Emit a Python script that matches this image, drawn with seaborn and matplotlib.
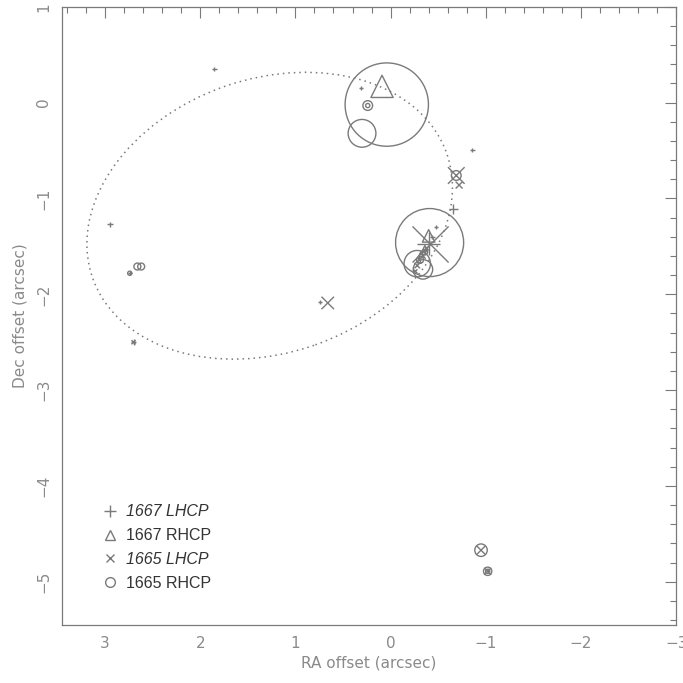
import matplotlib
matplotlib.use("Agg")
import matplotlib.pyplot as plt
from matplotlib.patches import Ellipse
from matplotlib.lines import Line2D
from matplotlib.ticker import MultipleLocator
import seaborn as sns
import pandas as pd

# --- maser spot data: RA / Dec offsets (arcsec) and marker size (pt) ---
lhcp67_ra = [-0.40, -0.66, 2.95, 2.70, -0.48, -0.44, -0.36, -0.30, 0.31, 1.85, -0.86, 0.74, 2.74]
lhcp67_dec = [-1.47, -1.11, -1.27, -2.50, -1.30, -1.40, -1.55, -1.62, 0.15, 0.35, -0.49, -2.08, -1.78]
lhcp67_size = [17, 7, 4, 4, 3, 3, 3, 3, 3, 3, 3, 3, 3]

rhcp67_ra = [0.09, -0.40, -0.36, -0.32, -0.30]
rhcp67_dec = [0.17, -1.39, -1.52, -1.58, -1.65]
rhcp67_size = [16, 9, 4, 4, 3]

lhcp65_ra = [-0.42, -0.69, -0.72, 0.66, -0.95, -0.34, -0.28, -0.38, -0.26, 2.70, -1.02]
lhcp65_dec = [-1.48, -0.76, -0.86, -2.09, -4.67, -1.60, -1.70, -1.52, -1.76, -2.50, -4.89]
lhcp65_size = [26, 12, 5, 9, 6, 4, 4, 3, 3, 3, 5]

rhcp65_ra = [0.04, 0.30, 0.24, 0.24, -0.41, -0.28, -0.34, -0.69, -0.95, -1.02, -1.02, 2.66, 2.62, 2.74, -0.31, -0.36]
rhcp65_dec = [-0.02, -0.32, -0.03, -0.03, -1.46, -1.68, -1.74, -0.76, -4.67, -4.89, -4.89, -1.71, -1.71, -1.78, -1.64, -1.56]
rhcp65_size = [60, 20, 7, 3, 49, 19, 14, 7, 9, 6, 3, 5, 5, 3, 5, 4]

# ring model (centre RA, centre Dec, major, minor, position angle)
ring_ra, ring_dec = 1.27, -1.18
ring_major, ring_minor, ring_angle = 3.94, 2.86, -19.0

GREY = "#7a7a7a"
TXT = "#8a8a8a"

sns.set_style("white")
plt.rcParams["font.family"] = ["DejaVu Sans"]

fig = plt.figure(figsize=(6.83, 6.83), dpi=100)
ax = fig.add_axes([0.091, 0.085, 0.899, 0.905])

groups = [
    (lhcp67_ra, lhcp67_dec, lhcp67_size, "+"),
    (rhcp67_ra, rhcp67_dec, rhcp67_size, "^"),
    (lhcp65_ra, lhcp65_dec, lhcp65_size, "x"),
    (rhcp65_ra, rhcp65_dec, rhcp65_size, "o"),
]
for ra, dec, size, mk in groups:
    df = pd.DataFrame({"ra": ra, "dec": dec, "s": size})
    s = (df["s"] ** 2).values
    if mk in ("+", "x"):
        sns.scatterplot(data=df, x="ra", y="dec", marker=mk, s=s, color=GREY,
                        linewidth=1.0, ax=ax, legend=False)
    else:
        sns.scatterplot(data=df, x="ra", y="dec", marker=mk, s=s, facecolors="none",
                        edgecolor=GREY, linewidth=1.0, ax=ax, legend=False)

ax.add_patch(Ellipse((ring_ra, ring_dec), ring_major, ring_minor, angle=ring_angle,
                     fill=False, edgecolor=GREY, linestyle=(0, (1, 2.6)), linewidth=1.1))

ax.set_xlim(3.45, -3.0)
ax.set_ylim(-5.45, 1.0)
ax.xaxis.set_major_locator(MultipleLocator(1))
ax.xaxis.set_minor_locator(MultipleLocator(0.2))
ax.yaxis.set_major_locator(MultipleLocator(1))
ax.yaxis.set_minor_locator(MultipleLocator(0.2))
ax.tick_params(which="both", direction="in", top=True, right=True, color=GREY,
               labelcolor=TXT, labelsize=11, width=0.8)
ax.tick_params(which="major", length=8, pad=8)
ax.tick_params(which="minor", length=4)
ax.tick_params(axis="y", labelrotation=90)
for lab in ax.get_yticklabels():
    lab.set_va("center")
for sp in ax.spines.values():
    sp.set_color(GREY)
    sp.set_linewidth(0.9)

ax.set_xlabel("RA offset (arcsec)", color=TXT, fontsize=11, labelpad=3)
ax.set_ylabel("Dec offset (arcsec)", color=TXT, fontsize=11, labelpad=6)

handles = [
    Line2D([], [], marker="+", ls="", color=GREY, markersize=8, mew=1),
    Line2D([], [], marker="^", ls="", color=GREY, mfc="none", markersize=7, mew=1),
    Line2D([], [], marker="x", ls="", color=GREY, markersize=6, mew=1),
    Line2D([], [], marker="o", ls="", color=GREY, mfc="none", markersize=7, mew=1),
]
labels = ["1667 LHCP", "1667 RHCP", "1665 LHCP", "1665 RHCP"]
leg = ax.legend(handles, labels, loc="upper left", bbox_to_anchor=(0.052, 0.208),
                frameon=False, handlelength=1.0, handletextpad=0.5, labelspacing=0.55,
                borderpad=0, prop={"family": "Liberation Sans", "size": 11.5})
for txt, style in zip(leg.get_texts(), ["italic", "normal", "italic", "normal"]):
    txt.set_color("#333333")
    txt.set_fontstyle(style)

fig.savefig("out.png", dpi=100)
